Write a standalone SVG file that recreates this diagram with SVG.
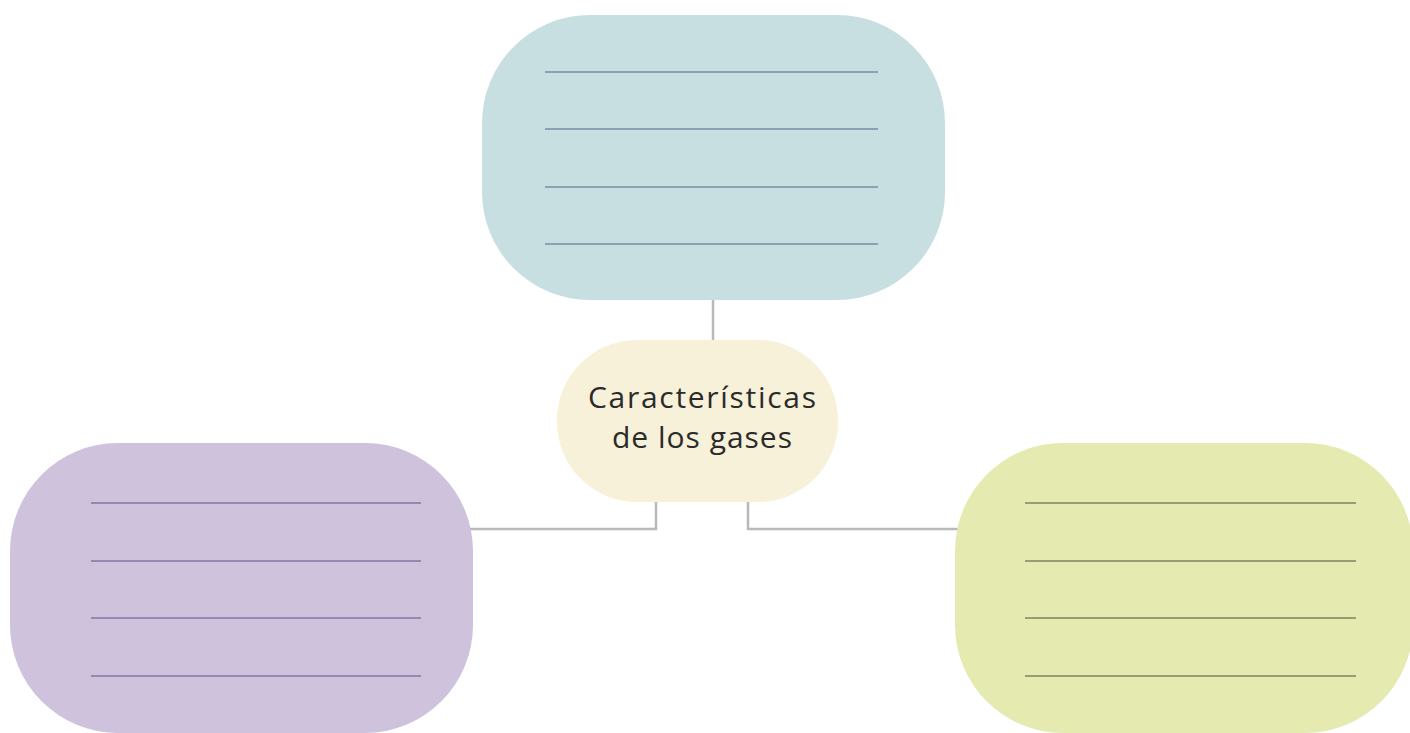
<svg xmlns="http://www.w3.org/2000/svg" width="1410" height="733" viewBox="0 0 1410 733">
<style>
.conn{fill:none;stroke:#b9b9bd;stroke-width:2.5}
.rule{stroke-width:2}
.label{font-family:"Open Sans","Liberation Sans",sans-serif;font-size:30px;fill:#2b2b2b;text-anchor:middle}
</style>
<rect width="1410" height="733" fill="#ffffff"/>
<g id="connectors">
<path class="conn" d="M713,300 V342"/>
<path class="conn" d="M656,500 V529 H470"/>
<path class="conn" d="M748,500 V529 H958"/>
</g>
<g id="node-top">
<rect x="482" y="15" width="463" height="285" rx="108" ry="108" fill="#c8dfe2"/>
<g stroke="#8fa0b2" class="rule">
<line x1="545" y1="72" x2="878" y2="72"/>
<line x1="545" y1="129" x2="878" y2="129"/>
<line x1="545" y1="187" x2="878" y2="187"/>
<line x1="545" y1="244" x2="878" y2="244"/>
</g>
</g>
<g id="node-left">
<rect x="10" y="443" width="463" height="290" rx="108" ry="108" fill="#cfc2dc"/>
<g stroke="#9a86b4" class="rule">
<line x1="91" y1="503" x2="421" y2="503"/>
<line x1="91" y1="561" x2="421" y2="561"/>
<line x1="91" y1="618" x2="421" y2="618"/>
<line x1="91" y1="676" x2="421" y2="676"/>
</g>
</g>
<g id="node-right">
<rect x="955" y="443" width="458" height="290" rx="108" ry="108" fill="#e4eab0"/>
<g stroke="#9e9a72" class="rule">
<line x1="1025" y1="503" x2="1356" y2="503"/>
<line x1="1025" y1="561" x2="1356" y2="561"/>
<line x1="1025" y1="618" x2="1356" y2="618"/>
<line x1="1025" y1="676" x2="1356" y2="676"/>
</g>
</g>
<g id="node-center">
<rect x="557" y="340" width="281" height="162" rx="80" ry="80" fill="#f8f1d9"/>
<text class="label" x="702" y="408" textLength="228" lengthAdjust="spacing">Características</text>
<text class="label" x="702" y="448" textLength="180" lengthAdjust="spacing">de los gases</text>
</g>
</svg>
